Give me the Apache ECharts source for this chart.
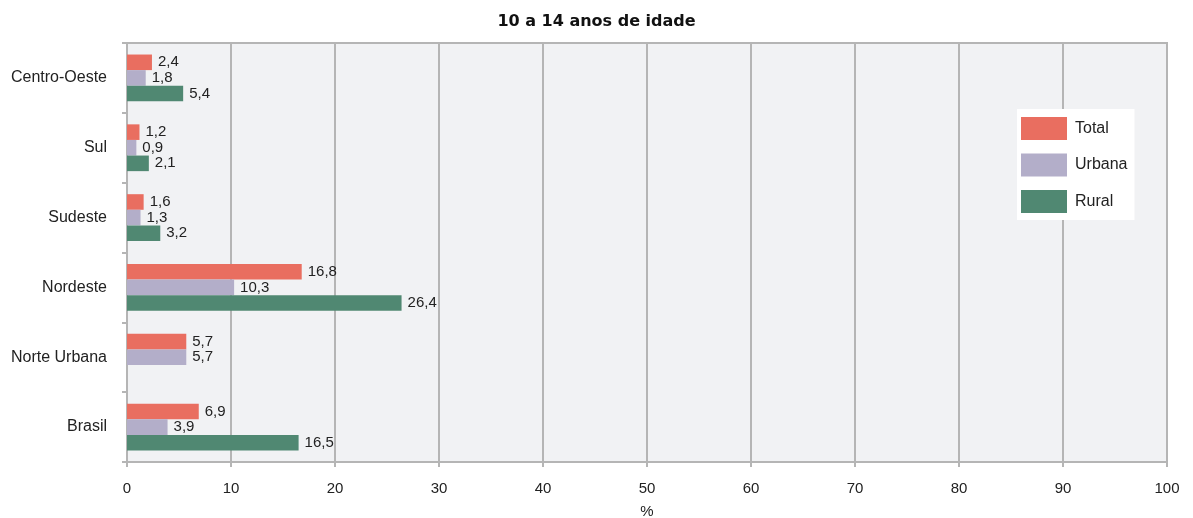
<!DOCTYPE html>
<html><head><meta charset="utf-8">
<script src="https://cdn.jsdelivr.net/npm/echarts@6/dist/echarts.min.js"></script>
<style>html,body{margin:0;padding:0;background:#fff}#c{width:1193px;height:518px}</style>
</head><body><div id="c"></div>
<script>
var categories = ['Brasil', 'Norte Urbana', 'Nordeste', 'Sudeste', 'Sul', 'Centro-Oeste'];
var total = [6.9, 5.7, 16.8, 1.6, 1.2, 2.4];
var urbana = [3.9, 5.7, 10.3, 1.3, 0.9, 1.8];
var rural = [16.5, null, 26.4, 3.2, 2.1, 5.4];
var xTicks = [0, 10, 20, 30, 40, 50, 60, 70, 80, 90, 100];

var FONT = 'Arial';
var chart = echarts.init(document.getElementById('c'));
var lbl = {
  show: true, position: 'right', distance: 6, color: '#222',
  fontFamily: FONT, fontSize: 15,
  formatter: function (p) { return String(p.value).replace('.', ','); }
};
function s(name, data, color) {
  return { name: name, type: 'bar', data: data, itemStyle: { color: color },
    barGap: '0%', barCategoryGap: '33%', label: lbl };
}
chart.setOption({
  animation: false,
  title: { text: '10 a 14 anos de idade', left: 'center', top: 9,
    textStyle: { fontFamily: '"DejaVu Sans", sans-serif', fontWeight: 'bold', fontSize: 16, color: '#111' } },
  legend: {
    orient: 'vertical', left: 1017, top: 109, backgroundColor: '#fff',
    padding: [8, 7, 7, 4], itemWidth: 46, itemHeight: 23, itemGap: 13.5,
    icon: 'rect',
    textStyle: { fontFamily: FONT, fontSize: 16, color: '#222', padding: [0, 0, 0, 3] },
    data: ['Total', 'Urbana', 'Rural']
  },
  grid: { left: 127, right: 26, top: 43, bottom: 56, show: true, backgroundColor: '#f1f2f4',
    borderColor: '#b5b5b5', borderWidth: 2, outerBoundsMode: 'none', containLabel: false },
  xAxis: {
    type: 'value', min: 0, max: 100, interval: 10,
    name: '%', nameLocation: 'middle', nameGap: 42,
    nameTextStyle: { fontFamily: FONT, fontSize: 15, color: '#222' },
    axisLine: { show: true, lineStyle: { color: '#b5b5b5', width: 2 } },
    axisTick: { show: true, length: 5, lineStyle: { color: '#b5b5b5', width: 2 } },
    axisLabel: { fontFamily: FONT, fontSize: 15, color: '#222', margin: 19,
      formatter: function (v) { return xTicks.indexOf(v) >= 0 ? String(v) : ''; } },
    splitLine: { show: true, lineStyle: { color: '#b5b5b5', width: 2 } }
  },
  yAxis: {
    type: 'category', data: categories,
    axisLine: { show: true, lineStyle: { color: '#b5b5b5', width: 2 } },
    axisTick: { show: true, length: 5, lineStyle: { color: '#b5b5b5', width: 2 } },
    axisLabel: { fontFamily: FONT, fontSize: 16, color: '#222', margin: 20 },
    splitLine: { show: false }
  },
  series: [s('Total', total, '#e96e60'), s('Urbana', urbana, '#b3aec9'), s('Rural', rural, '#508872')]
});
</script></body></html>
